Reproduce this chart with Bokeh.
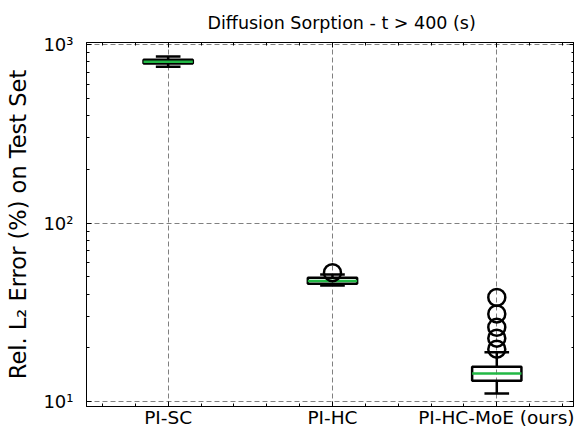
from bokeh.plotting import figure
from bokeh.models import (Range1d, FixedTicker, LinearAxis, LogAxis,
                          CustomJSTickFormatter)
from bokeh.embed import file_html
from bokeh.resources import INLINE

# ---- data ----
categories = ["PI-SC", "PI-HC", "PI-HC-MoE (ours)"]
positions = [1, 2, 3]
q1 = [783, 45.8, 13.1]
median = [803, 47.4, 14.4]
q3 = [824, 49.5, 15.7]
whisker_low = [753, 44.7, 11.1]
whisker_high = [857, 51.5, 18.9]
outlier_x = [2, 3, 3, 3, 3, 3]
outlier_y = [52.8, 38.4, 31.0, 26.1, 22.7, 19.7]

FONT = "DejaVu Sans"
BOX_W = 0.30
CAP_W = 0.15
GREEN = "#22b845"

p = figure(width=574, height=437, y_axis_type="log",
           x_range=Range1d(0.503, 3.473), y_range=Range1d(9.4, 1028),
           output_backend="svg", toolbar_location=None,
           min_border_left=86, min_border_right=0,
           min_border_top=42, min_border_bottom=31,
           background_fill_color="white", border_fill_color="white")

p.title.text = "Diffusion Sorption - t > 400 (s)"
p.title.text_font = FONT
p.title.text_font_size = "17.5px"
p.title.text_font_style = "normal"
p.title.text_color = "black"
p.title.align = "left"
p.title.offset = 121
p.title.standoff = 19

p.outline_line_color = "black"
p.outline_line_width = 1

xt = FixedTicker(ticks=positions,
                 minor_ticks=[0.6, 0.8, 1.2, 1.4, 1.6, 1.8, 2.2, 2.4, 2.6, 2.8, 3.2, 3.4])
yt = FixedTicker(ticks=[10, 100, 1000],
                 minor_ticks=[k * 10 for k in range(2, 10)] + [k * 100 for k in range(2, 10)])

sup = CustomJSTickFormatter(code="""
const s = {1:'\u00b9', 2:'\u00b2', 3:'\u00b3'};
return '10' + s[Math.round(Math.log10(tick))];
""")
blank = CustomJSTickFormatter(code="return '';")

def style_axis(ax, labels=True, size="18px"):
    ax.axis_line_color = "black"
    ax.axis_line_width = 1
    ax.major_tick_in = 5
    ax.major_tick_out = 0
    ax.minor_tick_in = 3
    ax.minor_tick_out = 0
    ax.major_tick_line_color = "black"
    ax.minor_tick_line_color = "black"
    ax.major_label_text_font = FONT
    ax.major_label_text_color = "black"
    if labels:
        ax.major_label_text_font_size = size
    else:
        ax.formatter = blank
        ax.major_label_text_font_size = "1px"
        ax.major_label_standoff = 0

xa = p.xaxis[0]
xa.ticker = xt
xa.major_label_overrides = {1: categories[0], 2: categories[1], 3: categories[2]}
style_axis(xa, size="18.5px")
xa.major_label_standoff = 0

ya = p.yaxis[0]
ya.ticker = yt
ya.formatter = sup
style_axis(ya, size="18px")
ya.major_label_standoff = 13
ya.axis_label = "Rel. L\u2082 Error (%) on Test Set"
ya.axis_label_text_font = FONT
ya.axis_label_text_font_size = "22.5px"
ya.axis_label_text_font_style = "normal"
ya.axis_label_text_color = "black"
ya.axis_label_standoff = 9

top_ax = LinearAxis(ticker=xt)
style_axis(top_ax, labels=False)
p.add_layout(top_ax, "above")
right_ax = LogAxis(ticker=yt)
style_axis(right_ax, labels=False)
p.add_layout(right_ax, "right")

for g in (p.xgrid[0], p.ygrid[0]):
    g.grid_line_color = "#808080"
    g.grid_line_dash = "5 3"
    g.grid_line_width = 1
p.xgrid[0].ticker = xt
p.ygrid[0].ticker = yt

lw = 2.5
left = [x - BOX_W / 2 for x in positions]
right = [x + BOX_W / 2 for x in positions]
cl = [x - CAP_W / 2 for x in positions]
cr = [x + CAP_W / 2 for x in positions]

p.quad(left=left, right=right, bottom=q1, top=q3,
       fill_color=None, line_color="black", line_width=lw)
p.segment(x0=positions, y0=q3, x1=positions, y1=whisker_high, line_color="black", line_width=lw)
p.segment(x0=positions, y0=q1, x1=positions, y1=whisker_low, line_color="black", line_width=lw)
p.segment(x0=cl, y0=whisker_high, x1=cr, y1=whisker_high, line_color="black", line_width=lw)
p.segment(x0=cl, y0=whisker_low, x1=cr, y1=whisker_low, line_color="black", line_width=lw)
p.segment(x0=left, y0=median, x1=right, y1=median, line_color=GREEN, line_width=lw)
p.scatter(x=outlier_x, y=outlier_y, marker="circle", size=17,
          fill_color=None, line_color="black", line_width=lw)

open("out.html", "w").write(file_html(p, INLINE))
